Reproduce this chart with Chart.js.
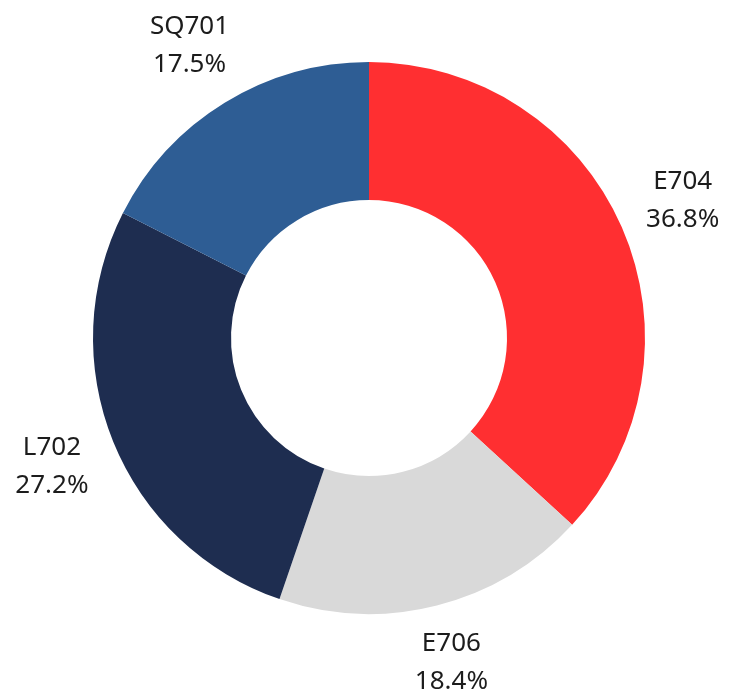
<!DOCTYPE html>
<html>
<head>
<meta charset="utf-8">
<script src="https://cdn.jsdelivr.net/npm/chart.js@4/dist/chart.umd.min.js"></script>
<style>
  html, body { margin: 0; padding: 0; background: #fff; }
  #wrap { position: relative; width: 731px; height: 698px; }
</style>
</head>
<body>
<div id="wrap"><canvas id="chart"></canvas></div>
<script>
const labels = ['E704', 'E706', 'L702', 'SQ701']
const shares = [36.8, 18.4, 27.2, 17.5]
const colors = ['#ff2f31', '#d9d9d9', '#1e2d50', '#2e5d94']

// labels outside each slice, "outside end" style
const outsideLabels = {
  id: 'outsideLabels',
  afterDatasetsDraw(chart) {
    const ctx = chart.ctx
    const meta = chart.getDatasetMeta(0)
    ctx.save()
    ctx.font = '26px "Noto Sans"'
    ctx.fillStyle = '#1c1c1c'
    ctx.textAlign = 'center'
    ctx.textBaseline = 'middle'
    const lineH = 38
    meta.data.forEach((arc, i) => {
      const p = arc.getProps(['x', 'y', 'startAngle', 'endAngle', 'outerRadius'], true)
      const mid = (p.startAngle + p.endAngle) / 2
      const lines = [labels[i], shares[i].toFixed(1) + '%']
      const w = Math.max(...lines.map(t => ctx.measureText(t).width))
      const h = lineH * (lines.length - 1) + 22   // visible text height
      const c = Math.cos(mid), s = Math.sin(mid)
      const dist = p.outerRadius + 21 + Math.abs(c) * w / 2 + Math.abs(s) * h / 2
      const cx = p.x + c * dist
      const cy = p.y + s * dist
      const top = cy - lineH * (lines.length - 1) / 2
      lines.forEach((t, k) => {
        ctx.fillText(t, cx, top + lineH * k)
      })
    })
    ctx.restore()
  }
}

new Chart(document.getElementById('chart'), {
  type: 'doughnut',
  data: {
    labels: labels,
    datasets: [{
      data: shares,
      backgroundColor: colors,
      borderWidth: 0
    }]
  },
  options: {
    responsive: true,
    maintainAspectRatio: false,
    animation: false,
    cutout: '50%',
    layout: { padding: { top: 62, bottom: 84, left: 93, right: 86 } },
    plugins: {
      legend: { display: false },
      tooltip: { enabled: false }
    }
  },
  plugins: [outsideLabels]
})
</script>
</body>
</html>
